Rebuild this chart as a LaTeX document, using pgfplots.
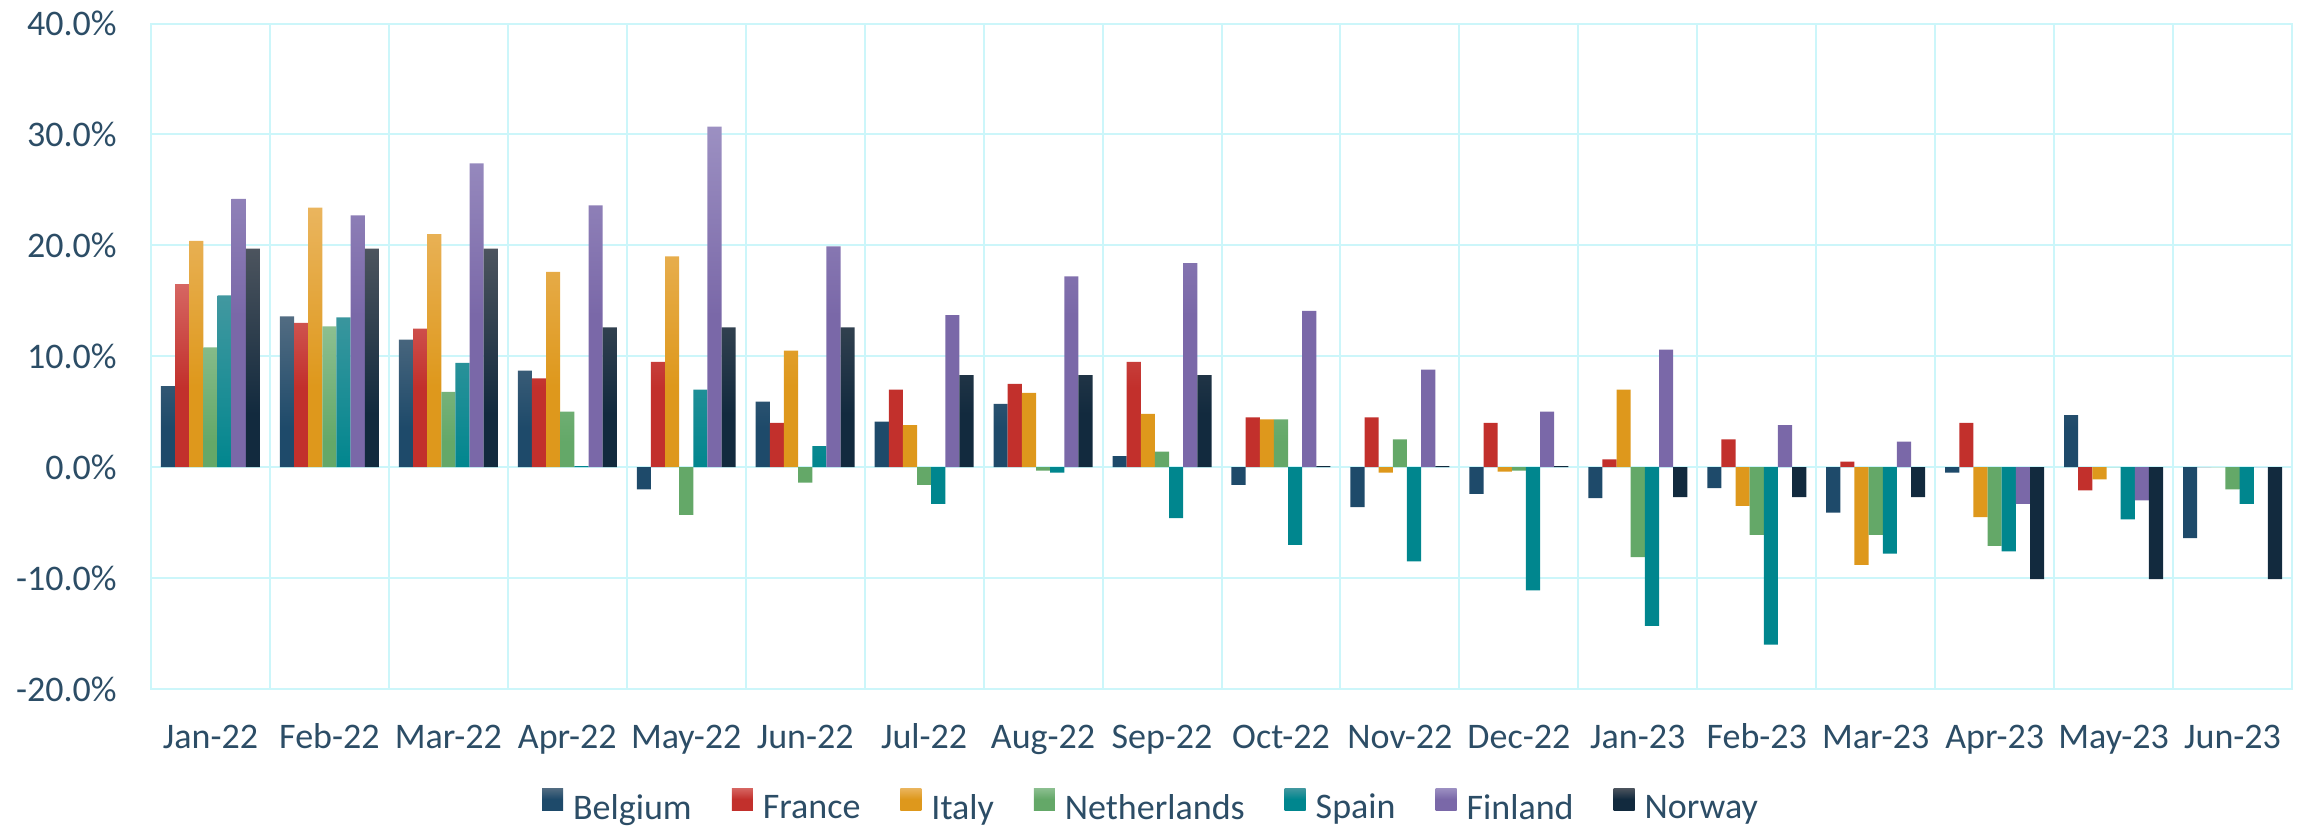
\documentclass[border=0pt]{standalone}
\usepackage{fontspec}
\setmainfont{Carlito}
\usepackage{pgfplots}
\usepackage{pgfplotstable}
\pgfplotsset{compat=1.18}
\definecolor{txt}{RGB}{44,77,102}
\definecolor{gridc}{RGB}{204,246,250}
\definecolor{belT}{RGB}{82,108,130}\definecolor{belB}{RGB}{30,74,106}
\definecolor{fraT}{RGB}{214,102,98}\definecolor{fraB}{RGB}{194,48,44}
\definecolor{itaT}{RGB}{234,181,94}\definecolor{itaB}{RGB}{222,152,28}
\definecolor{netT}{RGB}{140,191,144}\definecolor{netB}{RGB}{100,168,104}
\definecolor{spaT}{RGB}{66,152,160}\definecolor{spaB}{RGB}{0,134,142}
\definecolor{finT}{RGB}{156,144,194}\definecolor{finB}{RGB}{122,104,168}
\definecolor{norT}{RGB}{76,84,94}\definecolor{norB}{RGB}{18,42,62}
\pgfplotstableread{
x Bel Fra Ita Net Spa Fin Nor
0 7.3 16.5 20.4 10.8 15.5 24.2 19.7
1 13.6 13.0 23.4 12.7 13.5 22.7 19.7
2 11.5 12.5 21.0 6.8 9.4 27.4 19.7
3 8.7 8.0 17.6 5.0 0.1 23.6 12.6
4 -2.0 9.5 19.0 -4.3 7.0 30.7 12.6
5 5.9 4.0 10.5 -1.4 1.9 19.9 12.6
6 4.1 7.0 3.8 -1.6 -3.3 13.7 8.3
7 5.7 7.5 6.7 -0.3 -0.5 17.2 8.3
8 1.0 9.5 4.8 1.4 -4.6 18.4 8.3
9 -1.6 4.5 4.3 4.3 -7.0 14.1 0.1
10 -3.6 4.5 -0.5 2.5 -8.5 8.8 0.1
11 -2.4 4.0 -0.4 -0.3 -11.1 5.0 0.1
12 -2.8 0.7 7.0 -8.1 -14.3 10.6 -2.7
13 -1.9 2.5 -3.5 -6.1 -16.0 3.8 -2.7
14 -4.1 0.5 -8.8 -6.1 -7.8 2.3 -2.7
15 -0.5 4.0 -4.5 -7.1 -7.6 -3.3 -10.1
16 4.7 -2.1 -1.1 0 -4.7 -3.0 -10.1
17 -6.4 0 0 -2.0 -3.3 0 -10.1
}\datatable
\pgfplotsset{
  barleg/.style={legend image code/.code={\path[##1, draw=none] (0bp,-1bp) rectangle (10.5bp,10bp);}},
  mybar/.style 2 args={draw=none, top color=#1, bottom color=#2, middle color=#2, barleg},
}
\begin{document}
\begin{tikzpicture}
\begin{axis}[name=ax, scale only axis, width=1070.5bp, height=332.75bp,
  xmin=-0.5, xmax=17.5, ymin=-20, ymax=40,
  ybar=0pt, bar width=7.07bp,
  xtick={0,...,17},
  xticklabels={Jan-22,Feb-22,Mar-22,Apr-22,May-22,Jun-22,Jul-22,Aug-22,Sep-22,Oct-22,Nov-22,Dec-22,Jan-23,Feb-23,Mar-23,Apr-23,May-23,Jun-23},
  minor xtick={-0.5,0.5,...,17.5}, xminorgrids,
  ytick={-20,-10,0,10,20,30,40},
  yticklabels={-20.0\%,-10.0\%,0.0\%,10.0\%,20.0\%,30.0\%,40.0\%},
  ymajorgrids,
  major tick length=0pt, minor tick length=0pt,
  axis line style={gridc, line width=1bp},
  grid style={gridc, line width=1bp},
  minor grid style={gridc, line width=1bp},
  tick label style={font=\fontsize{18bp}{21bp}\selectfont, text=txt},
  yticklabel style={anchor=east, inner sep=0pt, xshift=-17bp},
  xticklabel style={anchor=base, inner sep=0pt, yshift=-29.5bp},
  legend columns=-1,
  legend style={at={(0.4666,-0.1743)}, anchor=center, draw=none, fill=none,
    font=\fontsize{18bp}{21bp}\selectfont, text=txt, nodes={inner sep=0pt},
    /tikz/every odd column/.append style={column sep=5bp},
    /tikz/every even column/.append style={column sep=20bp}},
]
\addplot[mybar={belT}{belB}] table[x=x,y=Bel]{\datatable};
\addplot[mybar={fraT}{fraB}] table[x=x,y=Fra]{\datatable};
\addplot[mybar={itaT}{itaB}] table[x=x,y=Ita]{\datatable};
\addplot[mybar={netT}{netB}] table[x=x,y=Net]{\datatable};
\addplot[mybar={spaT}{spaB}] table[x=x,y=Spa]{\datatable};
\addplot[mybar={finT}{finB}] table[x=x,y=Fin]{\datatable};
\addplot[mybar={norT}{norB}] table[x=x,y=Nor]{\datatable};
\legend{Belgium,France,Italy,Netherlands,Spain,Finland,Norway}
\end{axis}
\pgfresetboundingbox
\path[use as bounding box] ([shift={(-75.5bp,-68.5bp)}]ax.south west) rectangle ([shift={(4bp,11.75bp)}]ax.north east);
\end{tikzpicture}
\end{document}
